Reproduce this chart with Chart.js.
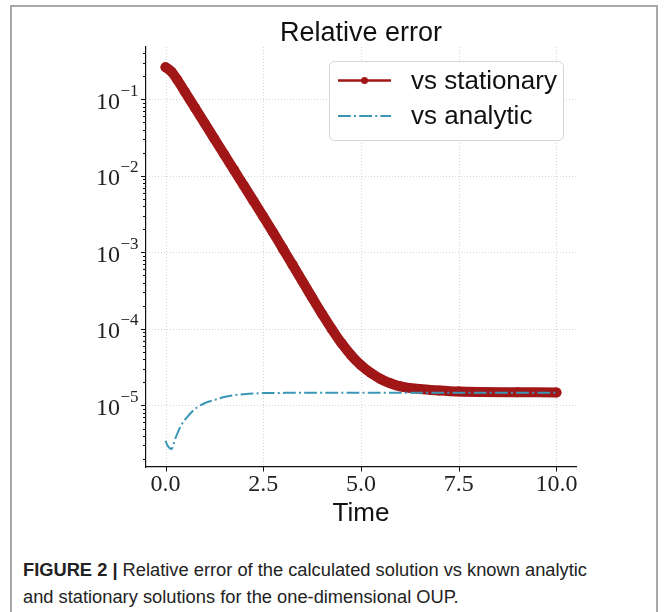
<!DOCTYPE html>
<html><head><meta charset="utf-8">
<script src="https://cdn.jsdelivr.net/npm/chart.js@4.4.1/dist/chart.umd.min.js"></script>
<style>
html,body{margin:0;padding:0;background:#fff;width:664px;height:612px;overflow:hidden;}
#frame{position:absolute;left:10px;top:5px;width:648px;height:700px;border:2px solid #a8a8a8;box-sizing:border-box;}
#wrap{position:absolute;left:0;top:0;width:664px;height:540px;}
#cap{position:absolute;left:23px;top:557px;font-family:"Liberation Sans",Arial,sans-serif;font-size:18.3px;line-height:26.5px;color:#222;white-space:nowrap;}
</style></head><body>
<div id="frame"></div>
<div id="wrap"><canvas id="c" width="664" height="540"></canvas></div>
<div id="cap"><b>FIGURE 2 |</b> Relative error of the calculated solution vs known analytic<br>and stationary solutions for the one-dimensional OUP.</div>
<script>
// ---- text ----
const TITLE = 'Relative error';
const X_LABEL = 'Time';
const SERIES_LABELS = ['vs stationary', 'vs analytic'];

// ---- ticks ----
const X_TICKS = [0, 2.5, 5, 7.5, 10];
const X_TICK_LABELS = ['0.0', '2.5', '5.0', '7.5', '10.0'];
const Y_TICK_VALUES = [1e-1, 1e-2, 1e-3, 1e-4, 1e-5];
const Y_TICK_BASE = '10';
const Y_TICK_EXPONENTS = ['\u22121', '\u22122', '\u22123', '\u22124', '\u22125'];

// ---- series: vs stationary ----
const timeStationary = [0, 0.15, 0.3, 0.5, 0.75, 1, 1.25, 1.5, 1.75, 2, 2.25, 2.5, 2.75, 3, 3.25, 3.5, 3.75, 4, 4.25, 4.5, 4.75, 5, 5.25, 5.5, 5.75, 6, 6.5, 7, 7.5, 8, 9, 10];
const errStationary = [0.263, 0.23, 0.18, 0.1245, 0.0778, 0.0488, 0.0305, 0.0191, 0.01197, 0.0075, 0.0047, 0.00294, 0.00183, 0.00112, 6.87e-4, 4.2e-4, 2.57e-4, 1.58e-4, 1.0e-4, 6.53e-5, 4.52e-5, 3.35e-5, 2.66e-5, 2.22e-5, 1.95e-5, 1.78e-5, 1.64e-5, 1.57e-5, 1.52e-5, 1.50e-5, 1.49e-5, 1.48e-5];

// ---- series: vs analytic ----
const timeAnalytic = [0, 0.05, 0.15, 0.25, 0.4, 0.6, 0.8, 1.0, 1.25, 1.5, 1.75, 2.0, 2.5, 3, 4, 5, 6, 7, 8, 9, 10];
const errAnalytic = [3.45e-6, 3.0e-6, 2.7e-6, 3.7e-6, 5.5e-6, 7.5e-6, 9.4e-6, 1.07e-5, 1.18e-5, 1.29e-5, 1.36e-5, 1.40e-5, 1.45e-5, 1.46e-5, 1.47e-5, 1.47e-5, 1.47e-5, 1.47e-5, 1.47e-5, 1.47e-5, 1.47e-5];

const RED = '#a11616';
const BLUE = '#3b96b6';
const SANS = '"Liberation Sans", Arial, sans-serif';
const SERIF = '"Liberation Serif", "Times New Roman", serif';

const decor = {
  id: 'decor',
  beforeDatasetsDraw(chart) {
    const {ctx, chartArea: a, scales: {x, y}} = chart;
    ctx.save();
    ctx.strokeStyle = '#d6d6d6';
    ctx.lineWidth = 1;
    ctx.setLineDash([1, 2]);
    X_TICKS.forEach(v => {
      const px = Math.round(x.getPixelForValue(v)) + 0.5;
      ctx.beginPath(); ctx.moveTo(px, a.top); ctx.lineTo(px, a.bottom); ctx.stroke();
    });
    Y_TICK_VALUES.forEach(v => {
      const py = Math.round(y.getPixelForValue(v)) + 0.5;
      ctx.beginPath(); ctx.moveTo(a.left, py); ctx.lineTo(a.right, py); ctx.stroke();
    });
    ctx.restore();
  },
  afterDatasetsDraw(chart) {
    const {ctx, chartArea: a} = chart;
    const w = 234, h = 79;
    const L = a.right - 13 - w, T = a.top + 14;
    ctx.save();
    ctx.fillStyle = 'rgba(255,255,255,0.85)';
    ctx.strokeStyle = '#d4d4d4';
    ctx.lineWidth = 1;
    ctx.beginPath();
    ctx.roundRect(L + 0.5, T + 0.5, w, h, 5);
    ctx.fill(); ctx.stroke();
    const rows = [T + 19.5, T + 55];
    chart.data.datasets.forEach((ds, i) => {
      const ry = rows[i];
      ctx.strokeStyle = ds.borderColor;
      ctx.lineWidth = i === 0 ? 2.3 : 2;
      ctx.setLineDash(i === 0 ? [] : [12.8, 3.2, 2, 3.2]);
      ctx.beginPath(); ctx.moveTo(L + 9, ry); ctx.lineTo(L + 62, ry); ctx.stroke();
      ctx.setLineDash([]);
      if (i === 0) {
        ctx.fillStyle = ds.borderColor;
        ctx.beginPath(); ctx.arc(L + 35.5, ry, 3.5, 0, Math.PI * 2); ctx.fill();
      }
      ctx.fillStyle = '#111';
      ctx.font = '26px ' + SANS;
      ctx.textBaseline = 'middle';
      ctx.textAlign = 'left';
      ctx.fillText(ds.label, L + 82, ry + 1);
    });
    ctx.restore();
  },
  afterDraw(chart) {
    const {ctx, chartArea: a, scales: {x, y}} = chart;
    ctx.save();
    ctx.strokeStyle = '#111';
    ctx.lineWidth = 1;
    X_TICKS.forEach(v => {
      const px = Math.round(x.getPixelForValue(v)) + 0.5;
      ctx.beginPath(); ctx.moveTo(px, a.bottom); ctx.lineTo(px, a.bottom + 4.5); ctx.stroke();
    });
    for (let e = -7; e <= 0; e++) {
      for (let m = 1; m <= 9; m++) {
        const v = m * Math.pow(10, e);
        if (v < y.min || v > y.max) continue;
        const py = Math.round(y.getPixelForValue(v)) + 0.5;
        const len = m === 1 ? 5 : 3;
        ctx.beginPath(); ctx.moveTo(a.left - len, py); ctx.lineTo(a.left, py); ctx.stroke();
      }
    }
    ctx.fillStyle = '#222';
    ctx.textAlign = 'right';
    ctx.textBaseline = 'middle';
    Y_TICK_VALUES.forEach((v, i) => {
      const py = y.getPixelForValue(v);
      const right = a.left - 7.5;
      ctx.font = '17px ' + SERIF;
      const sw = ctx.measureText(Y_TICK_EXPONENTS[i]).width;
      ctx.fillText(Y_TICK_EXPONENTS[i], right, py - 8);
      ctx.font = '24px ' + SERIF;
      ctx.fillText(Y_TICK_BASE, right - sw - 0.5, py + 3);
    });
    ctx.fillStyle = '#111';
    ctx.font = '27px ' + SANS;
    ctx.textAlign = 'center';
    ctx.textBaseline = 'middle';
    ctx.fillText(TITLE, (a.left + a.right) / 2, 34);
    ctx.restore();
  }
};

new Chart(document.getElementById('c'), {
  type: 'line',
  data: {
    datasets: [
      {
        label: SERIES_LABELS[0],
        data: timeStationary.map((t, i) => ({x: t, y: errStationary[i]})),
        borderColor: RED, backgroundColor: RED,
        borderWidth: 10, borderCapStyle: 'round', borderJoinStyle: 'round',
        pointRadius: 5, pointBorderWidth: 0, pointBackgroundColor: RED,
        cubicInterpolationMode: 'monotone',
        order: 2
      },
      {
        label: SERIES_LABELS[1],
        data: timeAnalytic.map((t, i) => ({x: t, y: errAnalytic[i]})),
        borderColor: BLUE, backgroundColor: BLUE,
        borderWidth: 2, borderDash: [12.8, 3.2, 2, 3.2],
        pointRadius: 0,
        cubicInterpolationMode: 'monotone',
        order: 1
      }
    ]
  },
  options: {
    responsive: false,
    animation: false,
    layout: {padding: {left: 0, top: 47, right: 88, bottom: 0}},
    plugins: {legend: {display: false}, title: {display: false}, tooltip: {enabled: false}},
    scales: {
      x: {
        type: 'linear', min: -0.5, max: 10.5,
        afterBuildTicks: s => { s.ticks = X_TICKS.map(v => ({value: v})); },
        afterFit: s => { s.height = 73; },
        ticks: {
          callback: v => X_TICK_LABELS[X_TICKS.indexOf(v)],
          font: {family: SERIF, size: 24}, color: '#222',
          padding: -5, maxRotation: 0, autoSkip: false
        },
        grid: {display: false},
        border: {display: true, color: '#111', width: 1.2},
        title: {display: true, text: X_LABEL, font: {family: SANS, size: 26, lineHeight: 1.2}, color: '#111', padding: {top: 0, bottom: 11}}
      },
      y: {
        type: 'logarithmic', min: 1.57e-6, max: 0.483,
        afterFit: s => { s.width = 146; },
        ticks: {display: false},
        grid: {display: false},
        border: {display: true, color: '#111', width: 1.2}
      }
    }
  },
  plugins: [decor]
});
</script>
</body></html>
